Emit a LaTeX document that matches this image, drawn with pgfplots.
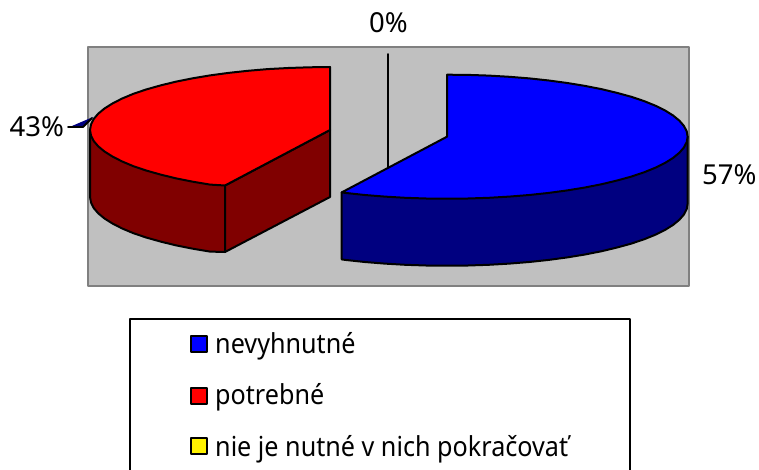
\documentclass[border=0pt]{standalone}
\usepackage{pgfplots}
\pgfplotsset{compat=1.18}
\usepackage{fontspec}
\setmainfont{Noto Sans}
\newfontfamily\legfont[FakeStretch=0.915]{Noto Sans}
\definecolor{plotbg}{RGB}{192,192,192}
\definecolor{plotedge}{RGB}{128,128,128}
\definecolor{darkred}{RGB}{128,0,0}
\definecolor{darkblue}{RGB}{0,0,128}
\begin{document}
\begin{tikzpicture}
\useasboundingbox (0,0) rectangle (759pt,470pt);
\begin{axis}[
  at={(0,0)}, anchor=south west,
  scale only axis, width=759pt, height=470pt,
  xmin=0, xmax=759, ymin=0, ymax=470, y dir=reverse,
  axis lines=none, xtick=\empty, ytick=\empty,
  every axis plot/.append style={line join=round, line cap=round},
]
% plot area
\addplot[fill=plotbg, draw=plotedge, line width=2pt] coordinates {(88,47) (689,47) (689,285.5) (88,285.5) (88,47)};
% leader lines
\addplot[draw=black, line width=1.9pt] coordinates {(388,54) (388,168)};
\addplot[fill=darkblue, draw=none] coordinates {(72,126) (83,127.5) (93,117) (72,126)};
\addplot[draw=black, line width=1.9pt] coordinates {(68,127) (83,127) (92,118)};
% red side (rim)
\addplot[fill=darkred, draw=black, line width=2pt] coordinates {
 (225,185.5) (225,252) (210,251.6) (192.2,248.6) (175.7,245.3) (160.3,241.5) (146.1,237.5) (133.4,233.2)
 (122.2,228.5) (112.6,223.6) (104.5,218.5) (98.2,213.3) (93.6,207.9) (91,202.5) (90,197) (90,130) (225,185.5)};
% red side (cut face)
\addplot[fill=darkred, draw=black, line width=2pt] coordinates {(330,130) (225,185.5) (225,252) (330,197) (330,130)};
% red top
\addplot[fill=red, draw=black, line width=2pt] coordinates {
 (225,185.5) (210,184.6) (192.2,181.6) (175.7,178.3) (160.3,174.5) (146.1,170.5) (133.4,166.2) (122.2,161.5)
 (112.6,156.6) (104.5,151.5) (98.2,146.3) (93.6,140.9) (91,135.5) (90,130) (91,124.5) (93.6,119.1) (98.2,113.7)
 (104.5,108.5) (112.6,103.4) (122.2,98.5) (133.4,93.8) (146.1,89.5) (160.3,85.5) (175.7,81.7) (192.2,78.4)
 (210,75.4) (228.5,72.9) (247.9,70.8) (267.8,69.1) (288.3,68) (309.1,67.3) (330,67) (330,130) (225,185.5)};
% blue side
\addplot[fill=darkblue, draw=black, line width=2pt] coordinates {
 (341.7,192.4) (341.7,259.4) (345.2,259.9) (364.7,262) (384.7,263.6) (405.2,264.8) (426,265.5) (447,265.7)
 (468,265.5) (488.8,264.8) (509.3,263.6) (529.3,262) (548.8,259.9) (567.3,257.4) (585,254.5) (601.7,251.2)
 (617.1,247.5) (631.3,243.6) (644.1,239.3) (655.4,234.7) (665.1,229.9) (673.1,224.9) (679.4,219.7) (683.9,214.5)
 (686.7,209.1) (687.6,203.7) (687.6,136.7) (341.7,192.4)};
% blue top
\addplot[fill=blue, draw=black, line width=2pt] coordinates {
 (447,74.7) (468,74.9) (488.8,75.6) (509.3,76.8) (529.3,78.4) (548.8,80.5) (567.3,83) (585,85.9) (601.7,89.2)
 (617.1,92.9) (631.3,96.8) (644.1,101.1) (655.4,105.7) (665.1,110.5) (673.1,115.5) (679.4,120.7) (683.9,125.9)
 (686.7,131.3) (687.6,136.7) (686.7,142.1) (683.9,147.5) (679.4,152.7) (673.1,157.9) (665.1,162.9) (655.4,167.7)
 (644.1,172.3) (631.3,176.6) (617.1,180.5) (601.7,184.2) (585,187.5) (567.3,190.4) (548.8,192.9) (529.3,195)
 (509.3,196.6) (488.8,197.8) (468,198.5) (447,198.7) (426,198.5) (405.2,197.8) (384.7,196.6) (364.7,195)
 (345.2,192.9) (341.7,192.4) (447,136.7) (447,74.7)};
% legend box
\addplot[fill=white, draw=black, line width=2pt] coordinates {(129.5,480) (129.5,318.5) (630,318.5) (630,480)};
% legend swatches
\addplot[only marks, mark=square*, mark size=8pt, mark options={fill=blue, draw=black, line width=2pt}] coordinates {(199,344)};
\addplot[only marks, mark=square*, mark size=8pt, mark options={fill=red, draw=black, line width=2pt}] coordinates {(199,395.5)};
\addplot[only marks, mark=square*, mark size=8pt, mark options={fill=yellow, draw=black, line width=2pt}] coordinates {(199,446)};
% texts
\newcommand{\lab}{\fontsize{27.5}{32}\selectfont}
\node[anchor=base west, inner sep=0pt] at (axis cs:9.5,137) {\lab 43\%};
\node[anchor=base west, inner sep=0pt] at (axis cs:369,33) {\lab 0\%};
\node[anchor=base west, inner sep=0pt] at (axis cs:702,185) {\lab 57\%};
\node[anchor=base west, inner sep=0pt] at (axis cs:215,353) {\legfont\lab nevyhnutné};
\node[anchor=base west, inner sep=0pt] at (axis cs:215,404) {\legfont\lab potrebné};
\node[anchor=base west, inner sep=0pt] at (axis cs:215,456) {\legfont\lab nie je nutné v nich pokračovať};
\end{axis}
\end{tikzpicture}
\end{document}
